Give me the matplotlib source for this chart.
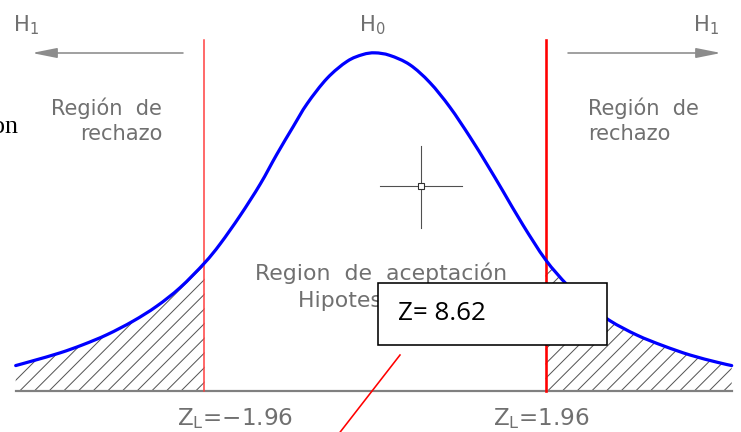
import matplotlib.pyplot as plt
import numpy as np
from matplotlib.patches import Rectangle, FancyArrowPatch, PathPatch
from matplotlib.path import Path

# Figure size in pixels and the dpi (88 dpi gives the hatch spacing of the original)
W, H = 741, 432
DPI = 88

# Curve: z value and height of the density
z_vals = [-4.13, -3.93, -3.62, -3.36, -3.08, -2.78, -2.51, -2.24, -1.96, -1.78,
          -1.55, -1.32, -1.13, -0.94, -0.78, -0.55, -0.32, -0.14, 0.0, 0.17,
          0.40, 0.63, 0.86, 1.09, 1.29, 1.47, 1.70, 1.96, 2.21, 2.44,
          2.70, 3.01, 3.31, 3.62, 3.93, 4.10]
dens = [0.030, 0.0357, 0.045, 0.0545, 0.0665, 0.0825, 0.100, 0.122, 0.151, 0.1735,
        0.207, 0.244, 0.279, 0.312, 0.339, 0.369, 0.389, 0.397, 0.399, 0.396,
        0.385, 0.364, 0.335, 0.300, 0.267, 0.236, 0.196, 0.155, 0.125, 0.103,
        0.083, 0.066, 0.0535, 0.0425, 0.034, 0.030]

# Critical values and the test statistic
z_crit = [-1.96, 1.96]
z_stat = 8.62
crit_top = 0.414

plt.rcParams['hatch.linewidth'] = 1.0 * 72 / DPI


def pt(px):
    # pixel size -> points
    return px * 72 / DPI


def fx(px):
    return px / W


def fy(py):
    return 1 - py / H


def smooth_path(xs, ys):
    # Catmull-Rom curve through the points, as cubic Bezier segments
    p = np.column_stack([xs, ys])
    verts = [p[0]]
    codes = [Path.MOVETO]
    for i in range(len(p) - 1):
        p0 = p[i - 1] if i > 0 else p[i]
        p1, p2 = p[i], p[i + 1]
        p3 = p[i + 2] if i + 2 < len(p) else p[i + 1]
        verts += [p1 + (p2 - p0) / 6, p2 - (p3 - p1) / 6, p2]
        codes += [Path.CURVE4] * 3
    return Path(verts, codes)


fig = plt.figure(figsize=(W / DPI, H / DPI), dpi=DPI)
ax = fig.add_axes([0, 0, 1, 1])
ax.set_xlim(-375 / 87, 366 / 87)
ax.set_ylim(-41 / 847.5, 391 / 847.5)
ax.axis('off')

gray_txt = '#707070'
cad = {'family': 'DejaVu Sans', 'color': gray_txt}

# hatched rejection regions
left = [(z, d) for z, d in zip(z_vals, dens) if z <= z_crit[0]]
right = [(z, d) for z, d in zip(z_vals, dens) if z >= z_crit[1]]
for part in (left, right):
    zs = [p[0] for p in part]
    ds = [p[1] for p in part]
    ax.fill_between(zs, 0, ds, facecolor='white', edgecolor='#555555',
                    hatch='//', linewidth=0, zorder=1)

# base line
ax.plot([z_vals[0], z_vals[-1]], [0, 0], color='#808080', lw=pt(2.2), zorder=2)

# critical value lines
ax.plot([z_crit[0], z_crit[0]], [0, crit_top], color='#ff3c3c', lw=pt(1.5), zorder=3)
ax.plot([z_crit[1], z_crit[1]], [0, crit_top], color='#ff0000', lw=pt(2.6), zorder=3)

# the density curve
ax.add_patch(PathPatch(smooth_path(z_vals, dens), facecolor='none',
                       edgecolor='#0000ff', lw=pt(3.2), capstyle='round',
                       joinstyle='round', zorder=4))

# H1 arrows
arrow_kw = dict(arrowstyle='-|>,head_length=1.5,head_width=0.3',
                mutation_scale=pt(14), color='#8c8c8c', lw=pt(1.6),
                transform=ax.transAxes, shrinkA=0, shrinkB=0)
ax.add_patch(FancyArrowPatch((fx(183), fy(53)), (fx(32), fy(53)), **arrow_kw))
ax.add_patch(FancyArrowPatch((fx(568), fy(53)), (fx(721), fy(53)), **arrow_kw))

# hypothesis labels
fs_h = pt(21)
ax.text(fx(13), fy(31), r'H$_{\mathregular{1}}$', fontsize=fs_h,
        transform=ax.transAxes, va='baseline', **cad)
ax.text(fx(693), fy(31), r'H$_{\mathregular{1}}$', fontsize=fs_h,
        transform=ax.transAxes, va='baseline', **cad)
ax.text(fx(359), fy(31), r'H$_{\mathregular{0}}$', fontsize=fs_h,
        transform=ax.transAxes, va='baseline', **cad)

# region labels
fs = pt(21)
ax.text(fx(162), fy(115), 'Región  de', fontsize=fs, ha='right', va='baseline',
        transform=ax.transAxes, **cad)
ax.text(fx(162), fy(140), 'rechazo', fontsize=fs, ha='right', va='baseline',
        transform=ax.transAxes, **cad)
ax.text(fx(588), fy(115), 'Región  de', fontsize=fs, ha='left', va='baseline',
        transform=ax.transAxes, **cad)
ax.text(fx(588), fy(140), 'rechazo', fontsize=fs, ha='left', va='baseline',
        transform=ax.transAxes, **cad)
ax.text(fx(381), fy(280), 'Region  de  aceptación', fontsize=pt(22), ha='center',
        va='baseline', transform=ax.transAxes, **cad)
ax.text(fx(298), fy(307), 'Hipotesis nula', fontsize=pt(22), ha='left',
        va='baseline', transform=ax.transAxes, **cad)

# critical value labels
ax.text(fx(177), fy(425), 'Z$_{\\mathregular{L}}$=\u22121.96',
        fontsize=pt(23), va='baseline', transform=ax.transAxes, **cad)
ax.text(fx(493), fy(425), r'Z$_{\mathregular{L}}$=1.96', fontsize=pt(23),
        va='baseline', transform=ax.transAxes, **cad)

# CAD cursor
cur = '#505050'
ax.plot([fx(380), fx(462)], [fy(186), fy(186)], color=cur, lw=pt(1.1),
        transform=ax.transAxes, zorder=5)
ax.plot([fx(421), fx(421)], [fy(146), fy(228)], color=cur, lw=pt(1.1),
        transform=ax.transAxes, zorder=5)
ax.plot([fx(421)], [fy(186)], marker='s', ms=pt(6), mfc='white', mec='#303030',
        mew=pt(1.1), transform=ax.transAxes, zorder=6)

# the text box with the statistic and its pointer
ax.add_patch(Rectangle((fx(378), fy(345)), fx(607) - fx(378), fy(283) - fy(345),
                       transform=ax.transAxes, facecolor='white', edgecolor='black',
                       lw=pt(1.6), zorder=7))
ax.text(fx(398), fy(314), 'Z= ' + str(z_stat), fontsize=pt(26), color='black',
        family='Open Sans', va='center', transform=ax.transAxes, zorder=8)
ax.plot([fx(400), fx(334)], [fy(355), fy(440)], color='#ff0000', lw=pt(1.6),
        transform=ax.transAxes, zorder=8)

# stray text at the left edge
ax.text(fx(18), fy(133), 'on', fontsize=pt(26), family='Liberation Serif',
        color='black', ha='right', va='baseline', transform=ax.transAxes)

fig.savefig('out.png', dpi=DPI)
